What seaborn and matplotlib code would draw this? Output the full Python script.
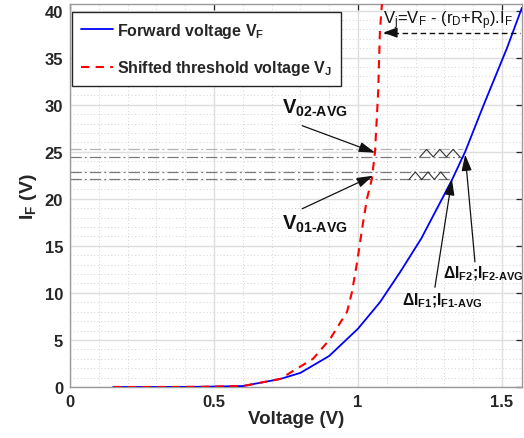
import numpy as np
import pandas as pd
import matplotlib
matplotlib.use("Agg")
import matplotlib.pyplot as plt
import seaborn as sns
from matplotlib.ticker import MultipleLocator

# forward voltage curve (blue)
v_f = [0.15, 0.30, 0.45, 0.60, 0.73, 0.80, 0.90, 1.00, 1.076, 1.146, 1.22, 1.285, 1.326, 1.372, 1.434, 1.517, 1.569]
i_f = [0.0, 0.0, 0.02, 0.10, 0.85, 1.5, 3.3, 6.2, 9.0, 12.2, 15.8, 19.6, 22.0, 25.0, 29.8, 36.0, 40.3]

# shifted threshold voltage curve (red dashed)
v_j = [0.15, 0.30, 0.45, 0.60, 0.729, 0.844, 0.903, 0.962, 0.979, 0.997, 1.014, 1.031, 1.048, 1.059, 1.070, 1.076, 1.083]
i_j = [0.0, 0.0, 0.02, 0.10, 0.85, 3.0, 5.1, 8.0, 10.1, 13.3, 16.8, 20.0, 22.1, 25.0, 31.4, 37.8, 40.7]

# average current levels (dash-dot lines) and where they stop
levels = [25.25, 24.45, 22.85, 22.05]
level_end = [1.365, 1.365, 1.319, 1.319]
level_col = ['#b4b4b4', '#7a7a7a', '#7a7a7a', '#7a7a7a']

# zigzag ripple marks between the level pairs
zz_up_x = [1.215, 1.238, 1.261, 1.284, 1.307, 1.330, 1.354]
zz_up_y = [24.45, 25.25, 24.45, 25.25, 24.45, 25.25, 24.45]
zz_lo_x = [1.177, 1.199, 1.221, 1.243, 1.265, 1.287, 1.309]
zz_lo_y = [22.05, 22.85, 22.05, 22.85, 22.05, 22.85, 22.05]

df_f = pd.DataFrame({'V': v_f, 'I': i_f})
df_j = pd.DataFrame({'V': v_j, 'I': i_j})

sns.set_style('white')
plt.rcParams['font.family'] = ['Liberation Sans', 'DejaVu Sans']
plt.rcParams['mathtext.fontset'] = 'custom'
plt.rcParams['mathtext.rm'] = 'Liberation Sans'
plt.rcParams['mathtext.it'] = 'Liberation Sans:italic'
plt.rcParams['mathtext.bf'] = 'Liberation Sans:bold'
plt.rcParams['mathtext.default'] = 'regular'

fig = plt.figure(figsize=(5.24, 4.39), dpi=100)
ax = fig.add_axes([0.1336, 0.1162, 0.996 - 0.1336, 0.9886 - 0.1162])

# level lines
for lv, xe, c in zip(levels, level_end, level_col):
    ax.plot([0, xe], [lv, lv], color=c, lw=0.9, ls=(0, (9, 2.5, 1.5, 2.5)), zorder=2)
ax.plot(zz_up_x, zz_up_y, color='#333333', lw=0.8, zorder=2)
ax.plot(zz_lo_x, zz_lo_y, color='#333333', lw=0.8, zorder=2)

sns.lineplot(data=df_f, x='V', y='I', ax=ax, color='#0000ff', lw=1.3,
             sort=False, estimator=None, label='Forward voltage $V_F$', zorder=3)
sns.lineplot(data=df_j, x='V', y='I', ax=ax, color='#ff0000', lw=1.5,
             sort=False, estimator=None, label='Shifted threshold voltage $V_J$', zorder=4)
ax.lines[-1].set_dashes((4, 3))

ax.set_xlim(0, 1.569)
ax.set_ylim(0, 40.7)
ax.xaxis.set_major_locator(MultipleLocator(0.5))
ax.xaxis.set_minor_locator(MultipleLocator(0.1))
ax.yaxis.set_major_locator(MultipleLocator(5))
ax.yaxis.set_minor_locator(MultipleLocator(1))
ax.set_xticks([0, 0.5, 1, 1.5], ['0', '0.5', '1', '1.5'])
ax.grid(which='major', color='#dedede', lw=1.0, ls='-')
ax.grid(which='minor', color='#d4d4d4', lw=0.7, ls=(0, (1, 2.5)))
ax.set_axisbelow(True)
ax.tick_params(which='major', direction='in', length=4, width=0.9, color='#262626',
               top=True, right=True, labelsize=12, labelcolor='#262626', pad=5)
ax.tick_params(which='minor', length=0)
for lab in ax.get_xticklabels() + ax.get_yticklabels():
    lab.set_fontweight('bold')
for sp in ax.spines.values():
    sp.set_color('#9a9a9a')
    sp.set_linewidth(1.0)

ax.set_xlabel('Voltage (V)', fontsize=13.5, fontweight='bold', color='#262626', labelpad=1)
ax.set_ylabel('$I_F$ (V)', fontsize=14, fontweight='bold', color='#262626', labelpad=4)

leg = ax.legend(loc='upper left', bbox_to_anchor=(0.004, 0.979), borderaxespad=0,
                fancybox=False, edgecolor='#262626', framealpha=1, handlelength=2.0,
                labelspacing=1.15, borderpad=0.55, handletextpad=0.3,
                prop={'weight': 'bold', 'size': 11.5})
leg.get_frame().set_linewidth(1.0)

# top formula and its arrow
ax.text(1.087, 38.6, '$V_j$=$V_F$ - ($r_D$+$R_p$).$I_F$', fontsize=12, color='#111111',
        ha='left', va='baseline')
ax.plot([1.09, 1.5625], [37.66, 37.66], color='#111111', lw=1.0, ls=(0, (4, 2.5)), zorder=5)
ax.annotate('', xy=(1.078, 37.66), xytext=(1.12, 37.66),
            arrowprops=dict(arrowstyle='-|>,head_length=0.6,head_width=0.22',
                            color='#111111', lw=1.0, mutation_scale=14), zorder=5)

arrow_kw = dict(arrowstyle='-|>,head_length=0.7,head_width=0.22', color='#111111',
                lw=0.9, mutation_scale=14, shrinkA=0, shrinkB=0)

# V02 / V01 labels
ax.annotate('', xy=(1.059, 24.9), xytext=(0.806, 27.77), arrowprops=arrow_kw, zorder=6)
ax.annotate('', xy=(1.052, 22.45), xytext=(0.806, 18.94), arrowprops=arrow_kw, zorder=6)
ax.text(0.735, 29.15, '$V_{02\u2010AVG}$', fontsize=14.5, fontweight='bold',
        color='#111111', ha='left', va='baseline')
ax.text(0.735, 16.8, '$V_{01\u2010AVG}$', fontsize=14.5, fontweight='bold',
        color='#111111', ha='left', va='baseline')

# delta I labels
ax.annotate('', xy=(1.326, 22.1), xytext=(1.267, 10.6), arrowprops=arrow_kw, zorder=6)
ax.annotate('', xy=(1.372, 24.7), xytext=(1.406, 13.3), arrowprops=arrow_kw, zorder=6)
ax.text(1.296, 11.7, '\u0394$I_{F2}$;$I_{F2\u2010AVG}$', fontsize=11.3, fontweight='bold',
        color='#111111', ha='left', va='baseline')
ax.text(1.153, 8.8, '\u0394$I_{F1}$;$I_{F1\u2010AVG}$', fontsize=11.3, fontweight='bold',
        color='#111111', ha='left', va='baseline')

fig.savefig('out.png', dpi=100)
